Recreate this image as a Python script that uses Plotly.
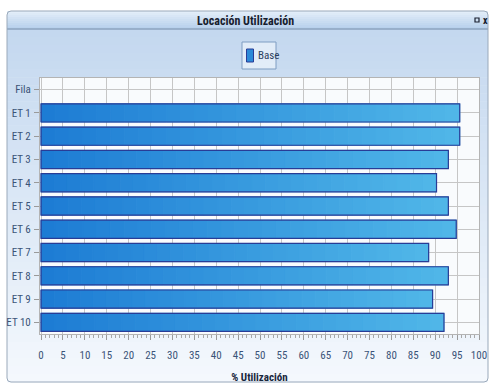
import plotly.graph_objects as go

# ---------------- data ----------------
categories = ["Fila", "ET 1", "ET 2", "ET 3", "ET 4", "ET 5",
              "ET 6", "ET 7", "ET 8", "ET 9", "ET 10"]
utilization = [None, 95.6, 95.6, 93.0, 90.3, 93.0, 94.8, 88.5, 93.0, 89.4, 92.0]
series_name = "Base"
x_tick_values = list(range(0, 101, 5))
chart_title = "Locación Utilización"
x_title = "% Utilización"

# ---------------- geometry ----------------
W, H = 490, 384
ML, MR, MT, MB = 40, 11, 78, 50
PW, PH = W - ML - MR, H - MT - MB


def px(x):
    return (x - ML) / PW


def py(y):
    return 1 - (y - MT) / PH


def lerp(c1, c2, t):
    return "rgb(%d,%d,%d)" % tuple(round(a + (b - a) * t) for a, b in zip(c1, c2))


FONT = "Roboto Condensed, Liberation Sans Narrow, sans-serif"

shapes = []
# panel body gradient
body_top, body_bot = (196, 216, 239), (244, 248, 253)
y0, y1 = 29, 382
nb = 44
for i in range(nb):
    a = y0 + (y1 - y0) * i / nb
    b = y0 + (y1 - y0) * (i + 1) / nb
    shapes.append(dict(type="rect", xref="paper", yref="paper", layer="below",
                       x0=px(7), x1=px(488), y0=py(a), y1=py(b + 0.6),
                       fillcolor=lerp(body_top, body_bot, i / (nb - 1)),
                       line=dict(width=0)))
# title bar gradient
tb_top, tb_bot = (226, 237, 249), (184, 209, 236)
t0, t1 = 11, 29
nt = 9
for i in range(nt):
    a = t0 + (t1 - t0) * i / nt
    b = t0 + (t1 - t0) * (i + 1) / nt
    shapes.append(dict(type="rect", xref="paper", yref="paper", layer="below",
                       x0=px(7), x1=px(488), y0=py(a), y1=py(b + 0.6),
                       fillcolor=lerp(tb_top, tb_bot, i / (nt - 1)),
                       line=dict(width=0)))
shapes.append(dict(type="line", xref="paper", yref="paper", layer="below",
                   x0=px(7), x1=px(488), y0=py(29), y1=py(29),
                   line=dict(color="#8da3bf", width=1.5)))
# rounded panel border
r = 4
rx, ry = r / PW, r / PH
X0, X1, Y0, Y1 = px(7), px(488), py(11), py(382)
path = (f"M {X0+rx},{Y0} L {X1-rx},{Y0} Q {X1},{Y0} {X1},{Y0-ry} "
        f"L {X1},{Y1+ry} Q {X1},{Y1} {X1-rx},{Y1} L {X0+rx},{Y1} "
        f"Q {X0},{Y1} {X0},{Y1+ry} L {X0},{Y0-ry} Q {X0},{Y0} {X0+rx},{Y0} Z")
shapes.append(dict(type="path", xref="paper", yref="paper", layer="below",
                   path=path, line=dict(color="#9aa9ba", width=1)))
# plot area background
shapes.append(dict(type="rect", xref="paper", yref="paper", layer="below",
                   x0=0, x1=1, y0=0, y1=1, fillcolor="#f9fbfd",
                   line=dict(width=0)))
# legend box
shapes.append(dict(type="rect", xref="paper", yref="paper", layer="above",
                   x0=px(242), x1=px(276), y0=py(42), y1=py(69),
                   fillcolor="rgba(244,248,253,0.6)",
                   line=dict(color="#7f9dc2", width=1)))
shapes.append(dict(type="rect", xref="paper", yref="paper", layer="above",
                   x0=px(246.5), x1=px(253.5), y0=py(49), y1=py(62),
                   fillcolor="#2c8ad8", line=dict(color="#283c96", width=1)))
# window icon
shapes.append(dict(type="rect", xref="paper", yref="paper", layer="above",
                   x0=px(475), x1=px(479), y0=py(18), y1=py(22),
                   fillcolor="rgba(0,0,0,0)", line=dict(color="#1a2030", width=1.2)))

annotations = [
    dict(text="<b>" + chart_title + "</b>", xref="paper", yref="paper",
         x=px(245), y=py(20.5), showarrow=False, xanchor="center", yanchor="middle",
         font=dict(family=FONT, size=12, color="#17202e")),
    dict(text="<b>x</b>", xref="paper", yref="paper",
         x=px(480.5), y=py(20), showarrow=False, xanchor="left", yanchor="middle",
         font=dict(family=FONT, size=10, color="#17202e")),
    dict(text=series_name, xref="paper", yref="paper",
         x=px(256), y=py(55.5), showarrow=False, xanchor="left", yanchor="middle",
         font=dict(family=FONT, size=11, color="#2b3f60")),
]

fig = go.Figure()

# gradient bars built from the data values in slices
N = 30
left_c, right_c = (29, 124, 212), (80, 182, 232)
for i in range(N):
    col = lerp(left_c, right_c, i / (N - 1))
    fig.add_trace(go.Bar(
        y=categories,
        x=[None if v is None else v / N for v in utilization],
        base=[None if v is None else v * i / N for v in utilization],
        orientation="h", width=0.78,
        marker=dict(color=col, line=dict(width=1, color=col)),
        showlegend=False, hoverinfo="skip"))
# outline / main series
fig.add_trace(go.Bar(
    y=categories, x=utilization, orientation="h", width=0.78, name=series_name,
    marker=dict(color="rgba(0,0,0,0)", line=dict(color="#283c96", width=1.2)),
    showlegend=False))

fig.update_layout(
    width=W, height=H,
    margin=dict(l=ML, r=MR, t=MT, b=MB, pad=0, autoexpand=False),
    paper_bgcolor="white", plot_bgcolor="rgba(0,0,0,0)",
    barmode="overlay",
    showlegend=False,
    shapes=shapes, annotations=annotations,
    font=dict(family=FONT, size=11, color="#3b5478"),
)
fig.update_xaxes(
    range=[-0.25, 100], tickvals=x_tick_values, ticks="outside", ticklen=5,
    tickcolor="#9a9a9a", showgrid=True, gridcolor="#c6c6c6", gridwidth=1,
    zeroline=False, showline=True, linecolor="#b4b4b4", mirror=True,
    minor=dict(dtick=1, ticks="outside", ticklen=3, tickcolor="#a8a8a8", showgrid=False),
    ticklabelstandoff=6, automargin=False,
    tickfont=dict(family=FONT, size=11, color="#3b5478"),
    title=dict(text="<b>" + x_title + "</b>", standoff=12,
               font=dict(family=FONT, size=11, color="#17263c")),
)
fig.update_yaxes(
    type="category", categoryorder="array", categoryarray=categories,
    range=[10.5, -0.5], ticks="outside", ticklen=5, tickcolor="#9a9a9a",
    showgrid=True, gridcolor="#c6c6c6", gridwidth=1,
    zeroline=False, showline=True, linecolor="#b4b4b4", mirror=True,
    ticklabelstandoff=1, automargin=False,
    tickfont=dict(family=FONT, size=11, color="#3b5478"),
)

fig.write_html("out.html")
